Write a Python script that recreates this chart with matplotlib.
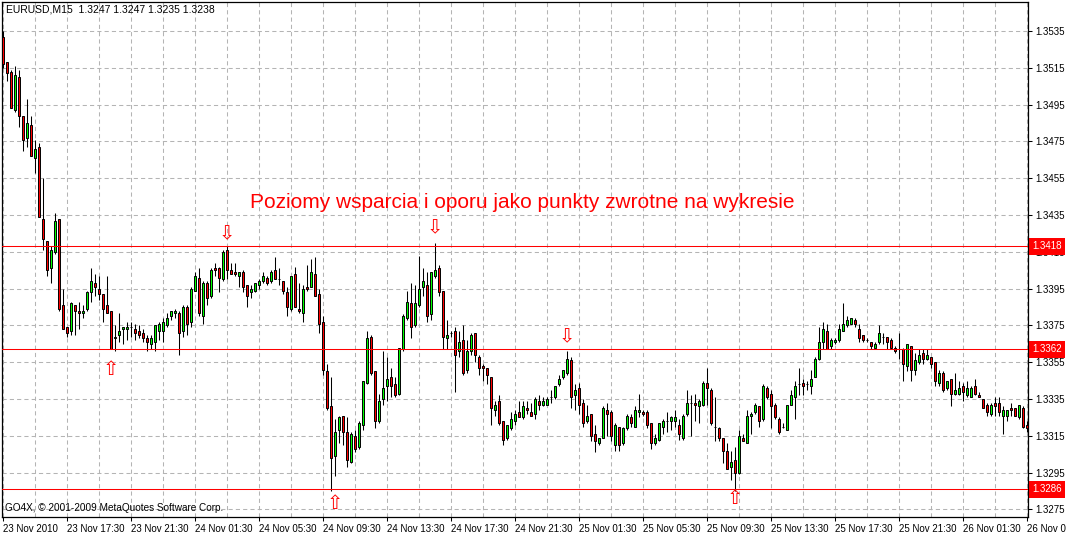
import numpy as np
import matplotlib
matplotlib.use("Agg")
import matplotlib.pyplot as plt
from matplotlib.transforms import blended_transform_factory

plt.rcParams['font.family'] = ['Liberation Sans', 'DejaVu Sans']

# EURUSD M15, prices as 4-digit quotes x10000 (13532 -> 1.3532)
open_p = [
    13532, 13518, 13513, 13492, 13510, 13489, 13477, 13484, 13466, 13472,
    13433, 13421, 13406, 13415, 13433, 13386, 13374, 13372, 13386, 13383,
    13382, 13384, 13393, 13398, 13395, 13392, 13386, 13383, 13368, 13370,
    13373, 13373, 13374, 13373, 13372, 13371, 13368, 13365, 13366, 13372,
    13372, 13375, 13380, 13382, 13382, 13372, 13385, 13377, 13394, 13401,
    13380, 13398, 13391, 13406, 13406, 13400, 13416, 13405, 13404, 13402,
    13404, 13397, 13393, 13394, 13397, 13399, 13401, 13399, 13405, 13400,
    13399, 13393, 13384, 13403, 13384, 13382, 13396, 13396, 13403, 13392,
    13377, 13350, 13331, 13304, 13318, 13326, 13317, 13301, 13315, 13309,
    13321, 13344, 13369, 13350, 13323, 13335, 13342, 13347, 13343, 13338,
    13362, 13379, 13387, 13375, 13386, 13396, 13397, 13381, 13402, 13406,
    13394, 13368, 13371, 13372, 13361, 13367, 13351, 13361, 13371, 13358,
    13353, 13352, 13347, 13329, 13334, 13323, 13314, 13319, 13323, 13328,
    13325, 13330, 13328, 13327, 13334, 13332, 13332, 13336, 13336, 13343,
    13347, 13349, 13356, 13337, 13341, 13333, 13323, 13327, 13316, 13311,
    13314, 13329, 13328, 13310, 13320, 13311, 13319, 13325, 13320, 13328,
    13328, 13328, 13322, 13311, 13313, 13320, 13323, 13323, 13323, 13321,
    13314, 13327, 13333, 13333, 13331, 13332, 13344, 13340, 13320, 13319,
    13314, 13307, 13298, 13302, 13295, 13314, 13311, 13326, 13328, 13331,
    13324, 13341, 13338, 13332, 13324, 13320, 13318, 13332, 13336, 13343,
    13344, 13343, 13342, 13347, 13357, 13366, 13372, 13364, 13366, 13367,
    13372, 13375, 13376, 13378, 13373, 13370, 13367, 13366, 13363, 13366,
    13369, 13369, 13367, 13363, 13362, 13362, 13353, 13364, 13351, 13355,
    13360, 13357, 13358, 13355, 13344, 13349, 13341, 13346, 13338, 13338,
    13342, 13337, 13336, 13342, 13337, 13335, 13332, 13327, 13333, 13333,
    13326, 13326, 13330, 13330, 13325, 13330, 13321,
]
high_p = [
    13535, 13518, 13514, 13516, 13514, 13489, 13498, 13489, 13476, 13474,
    13455, 13421, 13418, 13436, 13433, 13395, 13374, 13388, 13386, 13388,
    13386, 13394, 13406, 13403, 13402, 13392, 13402, 13383, 13375, 13382,
    13374, 13377, 13377, 13376, 13375, 13373, 13370, 13370, 13375, 13377,
    13379, 13382, 13383, 13384, 13383, 13386, 13386, 13396, 13404, 13406,
    13399, 13399, 13406, 13409, 13407, 13416, 13418, 13409, 13409, 13404,
    13405, 13397, 13397, 13398, 13400, 13404, 13402, 13405, 13412, 13406,
    13399, 13396, 13402, 13407, 13398, 13397, 13408, 13411, 13412, 13395,
    13380, 13354, 13347, 13324, 13326, 13326, 13325, 13317, 13318, 13323,
    13345, 13372, 13370, 13350, 13338, 13361, 13358, 13352, 13347, 13363,
    13381, 13394, 13398, 13397, 13413, 13406, 13404, 13404, 13420, 13408,
    13394, 13378, 13372, 13374, 13372, 13375, 13367, 13371, 13371, 13359,
    13354, 13352, 13347, 13334, 13337, 13323, 13321, 13328, 13329, 13334,
    13334, 13334, 13333, 13336, 13337, 13336, 13336, 13340, 13342, 13348,
    13351, 13361, 13358, 13343, 13344, 13335, 13332, 13327, 13321, 13314,
    13331, 13333, 13329, 13322, 13320, 13320, 13327, 13327, 13331, 13338,
    13329, 13329, 13322, 13316, 13322, 13324, 13328, 13326, 13329, 13324,
    13327, 13340, 13337, 13338, 13335, 13345, 13352, 13341, 13336, 13320,
    13314, 13311, 13307, 13309, 13318, 13316, 13329, 13328, 13333, 13331,
    13343, 13342, 13340, 13333, 13325, 13322, 13332, 13340, 13345, 13352,
    13346, 13345, 13351, 13358, 13374, 13377, 13376, 13368, 13368, 13376,
    13387, 13380, 13379, 13379, 13376, 13370, 13368, 13366, 13366, 13375,
    13371, 13369, 13368, 13364, 13371, 13363, 13365, 13364, 13360, 13362,
    13362, 13362, 13358, 13355, 13351, 13350, 13345, 13346, 13349, 13345,
    13344, 13345, 13342, 13346, 13339, 13335, 13333, 13333, 13336, 13336,
    13331, 13329, 13333, 13330, 13332, 13331, 13323,
]
low_p = [
    13515, 13508, 13493, 13491, 13483, 13470, 13472, 13467, 13458, 13434,
    13416, 13402, 13398, 13414, 13383, 13373, 13369, 13370, 13370, 13373,
    13379, 13383, 13388, 13391, 13389, 13377, 13382, 13362, 13361, 13366,
    13365, 13367, 13369, 13367, 13368, 13366, 13361, 13362, 13361, 13367,
    13366, 13374, 13378, 13379, 13359, 13369, 13370, 13374, 13394, 13380,
    13376, 13386, 13390, 13402, 13393, 13399, 13400, 13403, 13402, 13396,
    13393, 13385, 13390, 13393, 13395, 13398, 13397, 13398, 13400, 13397,
    13392, 13380, 13383, 13385, 13382, 13377, 13394, 13396, 13391, 13371,
    13348, 13329, 13285, 13293, 13311, 13310, 13298, 13300, 13306, 13308,
    13318, 13343, 13348, 13319, 13322, 13332, 13334, 13336, 13336, 13337,
    13361, 13378, 13368, 13374, 13385, 13391, 13377, 13378, 13401, 13391,
    13362, 13362, 13369, 13339, 13358, 13348, 13349, 13359, 13355, 13348,
    13345, 13343, 13321, 13326, 13321, 13310, 13313, 13318, 13321, 13325,
    13324, 13327, 13326, 13324, 13329, 13331, 13332, 13333, 13335, 13342,
    13346, 13348, 13330, 13329, 13327, 13320, 13322, 13312, 13306, 13310,
    13314, 13315, 13312, 13307, 13307, 13310, 13318, 13320, 13320, 13325,
    13326, 13319, 13308, 13310, 13312, 13316, 13317, 13318, 13320, 13313,
    13313, 13326, 13315, 13323, 13322, 13331, 13332, 13321, 13312, 13312,
    13300, 13297, 13291, 13285, 13294, 13312, 13311, 13316, 13327, 13320,
    13323, 13335, 13319, 13324, 13316, 13319, 13318, 13332, 13324, 13337,
    13337, 13340, 13338, 13347, 13356, 13362, 13362, 13362, 13365, 13366,
    13372, 13374, 13376, 13374, 13366, 13366, 13366, 13362, 13363, 13365,
    13365, 13362, 13362, 13360, 13357, 13345, 13350, 13345, 13348, 13354,
    13354, 13356, 13352, 13342, 13342, 13339, 13340, 13331, 13337, 13337,
    13334, 13336, 13336, 13337, 13336, 13330, 13326, 13326, 13326, 13326,
    13316, 13323, 13326, 13326, 13324, 13319, 13317,
]
close_p = [
    13517, 13512, 13493, 13511, 13489, 13476, 13485, 13467, 13471, 13434,
    13422, 13405, 13416, 13432, 13384, 13373, 13371, 13387, 13383, 13382,
    13383, 13393, 13399, 13396, 13392, 13384, 13382, 13362, 13369, 13372,
    13374, 13374, 13374, 13371, 13370, 13368, 13366, 13368, 13375, 13376,
    13377, 13379, 13383, 13383, 13371, 13385, 13376, 13395, 13402, 13382,
    13398, 13390, 13405, 13405, 13401, 13415, 13405, 13403, 13403, 13404,
    13396, 13391, 13395, 13398, 13399, 13402, 13398, 13404, 13400, 13400,
    13394, 13385, 13402, 13385, 13383, 13395, 13395, 13404, 13391, 13376,
    13351, 13330, 13303, 13317, 13325, 13317, 13302, 13316, 13308, 13322,
    13345, 13368, 13349, 13323, 13334, 13341, 13346, 13342, 13337, 13363,
    13380, 13388, 13374, 13387, 13395, 13399, 13380, 13404, 13405, 13393,
    13369, 13370, 13371, 13359, 13366, 13349, 13361, 13370, 13359, 13352,
    13352, 13348, 13330, 13332, 13322, 13313, 13321, 13324, 13327, 13325,
    13331, 13329, 13326, 13335, 13332, 13334, 13335, 13336, 13342, 13346,
    13351, 13357, 13336, 13340, 13332, 13322, 13326, 13315, 13312, 13314,
    13330, 13327, 13315, 13321, 13310, 13319, 13326, 13322, 13329, 13329,
    13327, 13321, 13311, 13314, 13322, 13323, 13323, 13325, 13325, 13316,
    13326, 13333, 13333, 13332, 13334, 13344, 13341, 13322, 13320, 13314,
    13307, 13297, 13301, 13295, 13315, 13312, 13326, 13327, 13332, 13323,
    13342, 13336, 13331, 13325, 13317, 13320, 13332, 13337, 13342, 13343,
    13342, 13343, 13346, 13357, 13366, 13373, 13362, 13367, 13367, 13373,
    13376, 13378, 13379, 13376, 13368, 13367, 13367, 13364, 13365, 13371,
    13369, 13366, 13363, 13361, 13362, 13354, 13365, 13351, 13356, 13359,
    13357, 13359, 13354, 13345, 13349, 13340, 13345, 13338, 13340, 13341,
    13339, 13341, 13341, 13338, 13336, 13330, 13328, 13332, 13331, 13328,
    13329, 13329, 13329, 13326, 13332, 13320, 13319,
]

time_labels = ["23 Nov 2010", "23 Nov 17:30", "23 Nov 21:30", "24 Nov 01:30",
               "24 Nov 05:30", "24 Nov 09:30", "24 Nov 13:30", "24 Nov 17:30",
               "24 Nov 21:30", "25 Nov 01:30", "25 Nov 05:30", "25 Nov 09:30",
               "25 Nov 13:30", "25 Nov 17:30", "25 Nov 21:30", "26 Nov 01:30",
               "26 Nov 05:30"]
price_ticks = [1.3535, 1.3515, 1.3495, 1.3475, 1.3455, 1.3435, 1.3415,
               1.3395, 1.3375, 1.3355, 1.3335, 1.3315, 1.3295, 1.3275]
levels = [1.3418, 1.3362, 1.3286]

# turning point markers: bar index and price where the arrow sits
arrow_dn_bar = [56, 108, 141]
arrow_dn_price = [1.3425, 1.3428, 1.3369]
arrow_up_bar = [27, 83, 183]
arrow_up_price = [1.3351, 1.3278, 1.3281]

title = "EURUSD,M15  1.3247 1.3247 1.3235 1.3238"
note = "Poziomy wsparcia i oporu jako punkty zwrotne na wykresie"
copyright_txt = "GO4X, \u00a9 2001-2009 MetaQuotes Software Corp."

o = np.array(open_p) / 10000.0
h = np.array(high_p) / 10000.0
l = np.array(low_p) / 10000.0
c = np.array(close_p) / 10000.0
x = np.arange(len(c))
up = c >= o

fig = plt.figure(figsize=(10.66, 5.35), dpi=100)
ax = fig.add_axes([2 / 1066, 18 / 535, 1026 / 1066, 515 / 535])

ax.vlines(x, l, h, color='black', lw=0.75, zorder=3)
bot = np.minimum(o, c)
hgt = np.abs(c - o)
ax.bar(x[up], hgt[up], bottom=bot[up], width=0.74, color='#00ff00',
       edgecolor='black', lw=0.7, zorder=4)
ax.bar(x[~up], hgt[~up], bottom=bot[~up], width=0.74, color='#ff0000',
       edgecolor='black', lw=0.7, zorder=4)

trans = blended_transform_factory(ax.transAxes, ax.transData)
for lv in levels:
    ax.axhline(lv, color='#ff0000', lw=0.75, zorder=5)
    ax.text(1.0 + 4 / 1026, lv, '%.4f' % lv, transform=trans, color='white',
            fontsize=7, va='center', ha='left', zorder=10, clip_on=False,
            bbox=dict(boxstyle='square,pad=0.34', fc='#ff0000', ec='none'))

for b, p in zip(arrow_dn_bar, arrow_dn_price):
    ax.text(b, p, '\u21e9', color='#ff0000', fontsize=14, ha='center',
            va='center', family='DejaVu Sans', zorder=6)
for b, p in zip(arrow_up_bar, arrow_up_price):
    ax.text(b, p, '\u21e7', color='#ff0000', fontsize=14, ha='center',
            va='center', family='DejaVu Sans', zorder=6)

ax.set_xlim(-0.25, 256.25)
ax.set_ylim(1.32709, 1.35508)

ax.set_xticks(np.arange(0, 16 * len(time_labels), 16))
ax.set_xticklabels(time_labels, ha='left', fontsize=7)
ax.set_xticks(np.arange(8, 256, 16), minor=True)
ax.yaxis.tick_right()
ax.set_yticks(price_ticks)
ax.set_yticklabels(['%.4f' % t for t in price_ticks], fontsize=7)
ax.tick_params(axis='x', which='major', length=3, width=0.75, pad=2,
               direction='out')
ax.tick_params(axis='x', which='minor', length=0)
ax.tick_params(axis='y', length=3, width=0.75, pad=2, direction='out')

ax.grid(True, which='both', color='#b4b4b4', lw=0.75, linestyle=(0, (4, 3)),
        zorder=0)
ax.set_axisbelow(True)
for sp in ax.spines.values():
    sp.set_color('black')
    sp.set_linewidth(0.9)

fig.text(6 / 1066, 1 - 10 / 535, title, fontsize=7.5, va='center', ha='left')
fig.text(250 / 1066, 1 - 203 / 535, note, fontsize=15, color='#ff0000',
         va='center', ha='left')
fig.text(5 / 1066, 1 - 508 / 535, copyright_txt, fontsize=7.2, va='center',
         ha='left')

fig.savefig('out.png', dpi=100, facecolor='white')
